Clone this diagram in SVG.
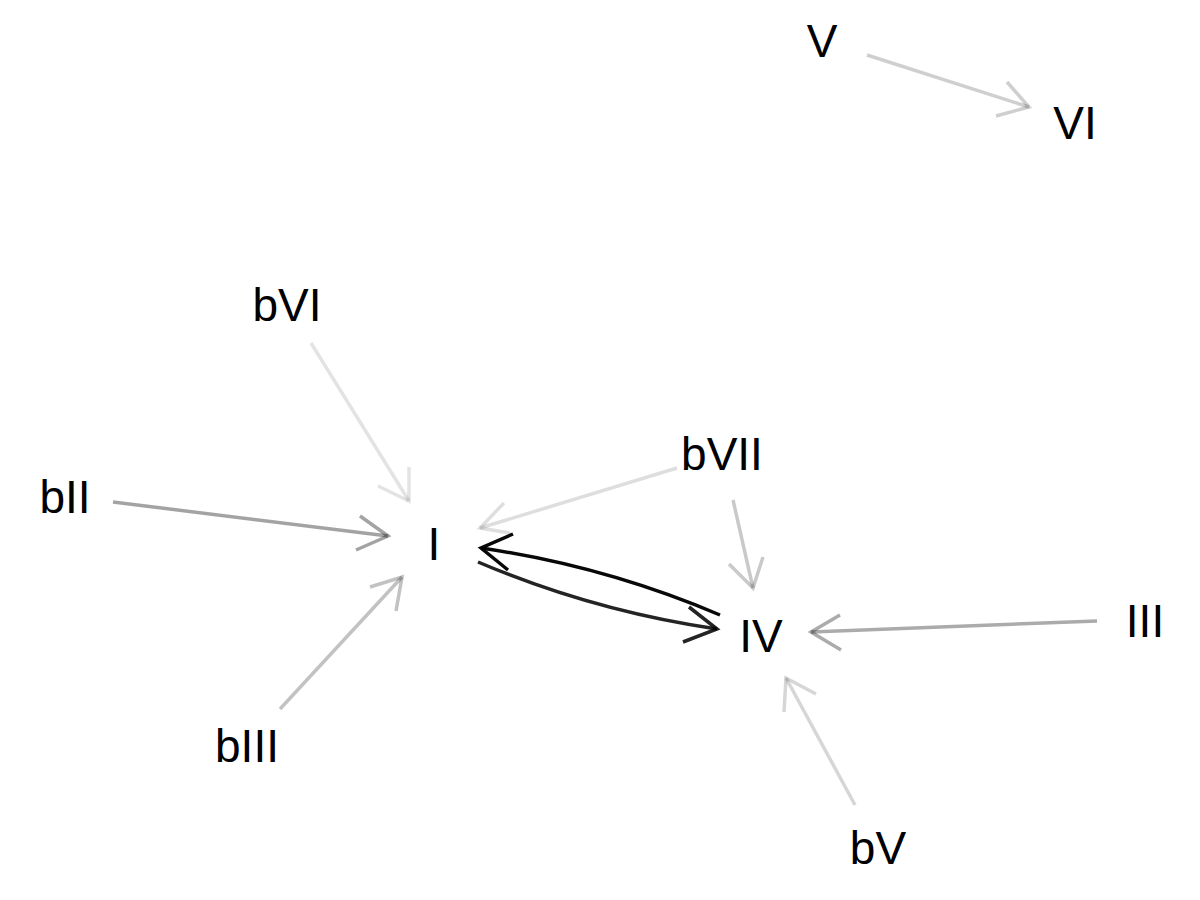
<svg xmlns="http://www.w3.org/2000/svg" width="1200" height="900" viewBox="0 0 1200 900">
  <style>
    .lbl { font-family: "Liberation Sans", Arial, sans-serif; font-size: 46px; fill: #000000; text-anchor: middle; }
    .e { fill: none; stroke: #000000; stroke-width: 3.5; stroke-linecap: butt; stroke-linejoin: miter; }
    .w11 { stroke-opacity: 0.11; }
    .w12 { stroke-opacity: 0.13; }
    .w16 { stroke-opacity: 0.16; }
    .w19 { stroke-opacity: 0.19; }
    .w20 { stroke-opacity: 0.21; }
    .w23 { stroke-opacity: 0.24; }
    .w33 { stroke-opacity: 0.33; }
    .w35 { stroke-opacity: 0.36; }
    .w87 { stroke-opacity: 0.86; }
    .w95 { stroke-opacity: 0.97; }
  </style>
  <rect width="1200" height="900" fill="#ffffff"/>
  <g id="connectors">
    <g id="e-V-VI" class="e w19">
      <path d="M867,55 L1029,107"/>
      <path d="M1007,82 L1029,107 L996,116"/>
    </g>
    <g id="e-bVI-I" class="e w11">
      <path d="M311,343 L409,501"/>
      <path d="M409,467 L409,501 L378,486"/>
    </g>
    <g id="e-bII-I" class="e w35">
      <path d="M113,502 L388,536"/>
      <path d="M360,516 L388,536 L356,550"/>
    </g>
    <g id="e-bIII-I" class="e w23">
      <path d="M280,709 L402,577"/>
      <path d="M370,587 L402,577 L396,611"/>
    </g>
    <g id="e-bVII-I" class="e w12">
      <path d="M677,468 L480,528"/>
      <path d="M504,503 L480,528 L510,533"/>
    </g>
    <g id="e-bVII-IV" class="e w20">
      <path d="M733,500 L753,588"/>
      <path d="M763,557 L753,588 L729,564"/>
    </g>
    <g id="e-III-IV" class="e w33">
      <path d="M1097,621 L811,632"/>
      <path d="M840,615 L811,632 L841,650"/>
    </g>
    <g id="e-bV-IV" class="e w16">
      <path d="M855,805 L786,678"/>
      <path d="M784,712 L786,678 L816,694"/>
    </g>
    <g id="e-IV-I" class="e w95">
      <path d="M720,615 Q605,566 481,548"/>
      <path d="M513,534 L481,548 L508,570"/>
    </g>
    <g id="e-I-IV" class="e w87">
      <path d="M478,562 Q593,611 717,629"/>
      <path d="M689,607 L717,629 L683,642"/>
    </g>
  </g>
  <g id="node-V"><text class="lbl" x="822" y="57">V</text></g>
  <g id="node-VI"><text class="lbl" x="1075" y="139">VI</text></g>
  <g id="node-bVI"><text class="lbl" x="287" y="321">bVI</text></g>
  <g id="node-bII"><text class="lbl" x="65" y="513">bII</text></g>
  <g id="node-I"><text class="lbl" x="434" y="560">I</text></g>
  <g id="node-bVII"><text class="lbl" x="722" y="470">bVII</text></g>
  <g id="node-IV"><text class="lbl" x="761" y="652">IV</text></g>
  <g id="node-III"><text class="lbl" x="1145" y="637">III</text></g>
  <g id="node-bIII"><text class="lbl" x="247" y="762">bIII</text></g>
  <g id="node-bV"><text class="lbl" x="878" y="864">bV</text></g>
</svg>
